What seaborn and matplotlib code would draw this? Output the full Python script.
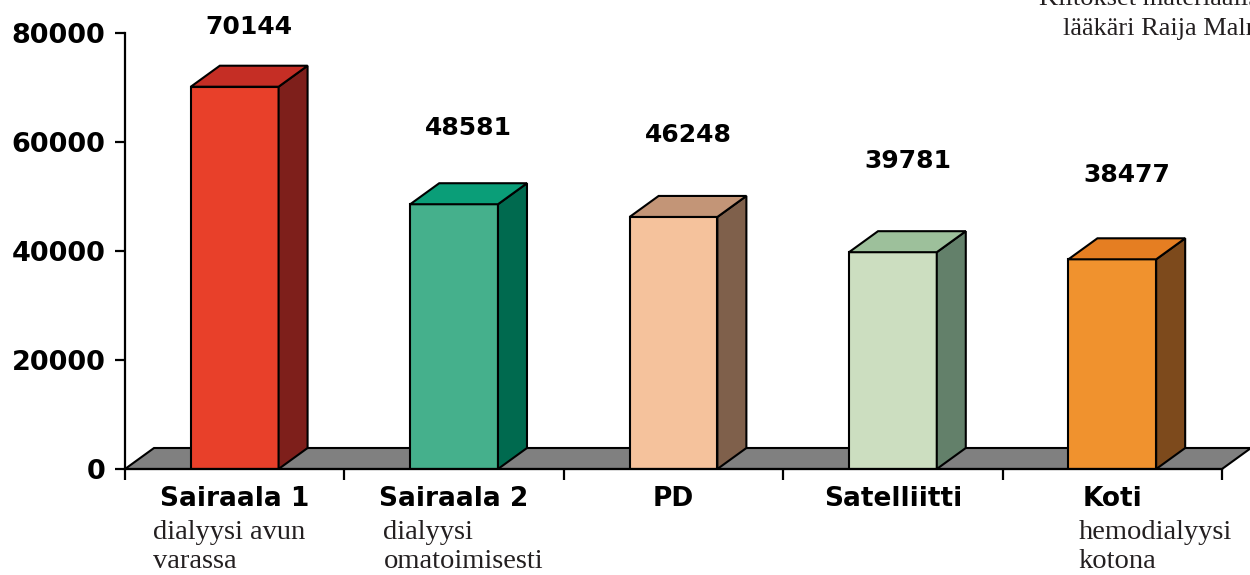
import matplotlib
matplotlib.use("Agg")
import matplotlib.pyplot as plt
import seaborn as sns
import pandas as pd
import numpy as np
from matplotlib.patches import Polygon

# ---- data ----
categories = ["Sairaala 1", "Sairaala 2", "PD", "Satelliitti", "Koti"]
subtitles = ["dialyysi avun\nvarassa", "dialyysi\nomatoimisesti", "", "", "hemodialyysi\nkotona"]
values = [70144, 48581, 46248, 39781, 38477]
y_ticks = [0, 20000, 40000, 60000, 80000]
note_lines = ["Kiitokset materiaalista", "lääkäri Raija Malmille"]

# ---- styling ----
front_colors = ["#E8402A", "#45B08C", "#F5C29C", "#CCDEC0", "#F0922E"]
top_colors = ["#C52E25", "#0A9E78", "#C39577", "#9DC09B", "#E57E22"]
side_colors = ["#7E1F1B", "#006A4F", "#7F604B", "#63806A", "#7D4A1C"]
floor_color = "#808080"
label_gap_px = [39, 55, 61, 70, 63]          # gap between bar top and value label
sub_offsets = [-0.372, -0.322, 0, 0, -0.153]  # left edge of sub-label vs category centre
DEPTH_PX = (29, 21)

sns.set_theme(style="white")
plt.rcParams["font.family"] = ["DejaVu Sans"]
plt.rcParams["text.color"] = "black"
plt.rcParams["xtick.color"] = "black"
plt.rcParams["ytick.color"] = "black"

W, H = 1250, 575
fig = plt.figure(figsize=(W / 100, H / 100), dpi=100)
ax = fig.add_axes([125 / W, (H - 469) / H, (1222 - 125) / W, (469 - 33) / H])

df = pd.DataFrame({"cat": categories, "val": values})
sns.barplot(data=df, x="cat", y="val", hue="cat", palette=front_colors,
            width=0.4, legend=False, ax=ax, edgecolor="black", linewidth=1.5,
            saturation=1, zorder=3)
bars = list(ax.patches)

ax.set_xlim(-0.5, 4.5)
ax.set_ylim(0, 80000)


def px_to_data(dxp, dyp):
    x0, y0 = ax.transData.transform((0, 0))
    x1, y1 = ax.transData.inverted().transform((x0 + dxp, y0 + dyp))
    return x1, y1


ddx, ddy = px_to_data(*DEPTH_PX)

# floor
floor = Polygon([(-0.5, 0), (4.5, 0), (4.5 + ddx, ddy), (-0.5 + ddx, ddy)],
                closed=True, facecolor=floor_color, edgecolor="black",
                linewidth=1.5, zorder=2, clip_on=False)
ax.add_patch(floor)

# 3D sides and tops
for i, p in enumerate(bars):
    x0, w, h = p.get_x(), p.get_width(), p.get_height()
    side = Polygon([(x0 + w, 0), (x0 + w + ddx, ddy), (x0 + w + ddx, h + ddy), (x0 + w, h)],
                   closed=True, facecolor=side_colors[i], edgecolor="black",
                   linewidth=1.5, zorder=3, clip_on=False)
    top = Polygon([(x0, h), (x0 + w, h), (x0 + w + ddx, h + ddy), (x0 + ddx, h + ddy)],
                  closed=True, facecolor=top_colors[i], edgecolor="black",
                  linewidth=1.5, zorder=3, clip_on=False)
    ax.add_patch(side)
    ax.add_patch(top)
    ax.annotate(f"{values[i]}", xy=(x0 + w / 2 + ddx / 2, h + ddy),
                xytext=(0, label_gap_px[i] * 0.72), textcoords="offset points",
                ha="center", va="center", fontsize=18, fontweight="heavy",
                color="black", annotation_clip=False)

# axes styling
for s in ["top", "right"]:
    ax.spines[s].set_visible(False)
for s in ["left", "bottom"]:
    ax.spines[s].set_linewidth(1.6)
    ax.spines[s].set_color("black")
    ax.spines[s].set_zorder(4)

ax.set_yticks(y_ticks)
ax.set_yticklabels([str(t) for t in y_ticks], fontsize=19.5, fontweight="heavy", color="black")
ax.tick_params(axis="y", direction="out", length=7.2, width=1.6, color="black",
               labelcolor="black", pad=7, left=True)

ax.set_xticks(np.arange(-0.5, 5, 1))
ax.set_xticklabels([])
ax.set_xticks(range(len(categories)), minor=True)
ax.set_xticklabels(categories, minor=True, fontsize=19, fontweight="heavy", color="black")
ax.tick_params(axis="x", which="major", direction="out", length=8, width=1.6,
               color="black", bottom=True)
ax.tick_params(axis="x", which="minor", length=0, pad=12, bottom=True, labelcolor="black")
ax.set_xlabel("")
ax.set_ylabel("")
ax.grid(False)

# sub-labels
ytop = 1 - 520 / H
for i, sub in enumerate(subtitles):
    if not sub:
        continue
    xd = i + sub_offsets[i]
    xf = fig.transFigure.inverted().transform(ax.transData.transform((xd, 0)))[0]
    fig.text(xf, ytop, sub, ha="left", va="top", fontsize=20.5,
             family="Liberation Serif", color="#231f20", linespacing=1.22,
             multialignment="left")

# top-right note (clipped at the figure edge as in the source)
fig.text(1039 / W, 1 - 5 / H, note_lines[0], ha="left", va="baseline",
         fontsize=19, family="Liberation Serif", color="#231f20")
fig.text(1063 / W, 1 - 35 / H, note_lines[1], ha="left", va="baseline",
         fontsize=19, family="Liberation Serif", color="#231f20")

fig.savefig("out.png", dpi=100, facecolor="white")
